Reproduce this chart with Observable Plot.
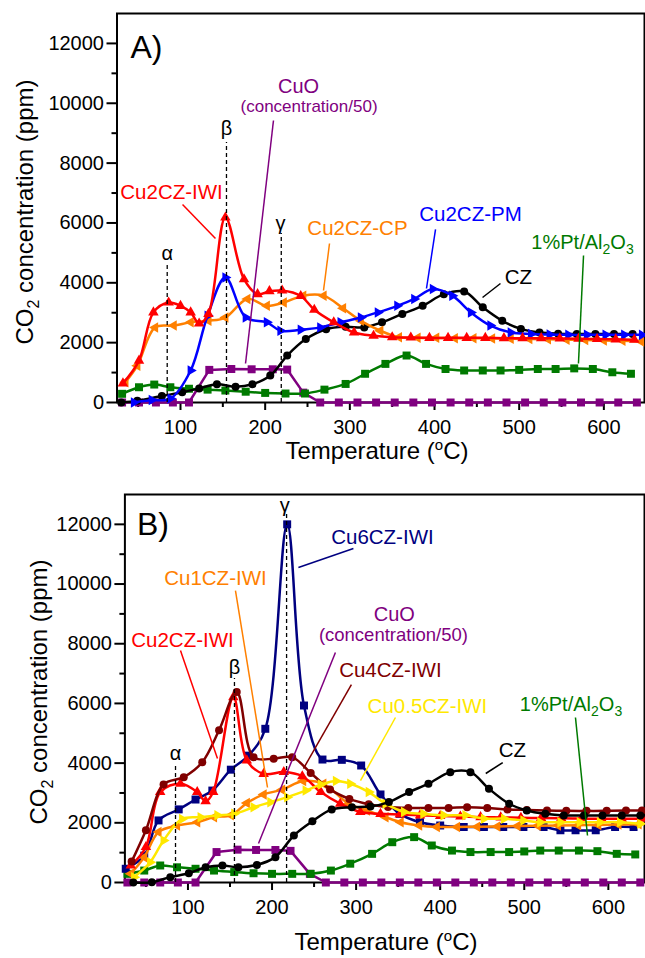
<!DOCTYPE html>
<html><head><meta charset="utf-8">
<script src="https://cdn.jsdelivr.net/npm/d3@7"></script>
<script src="https://cdn.jsdelivr.net/npm/@observablehq/plot@0.6"></script>
<style>
html,body{margin:0;padding:0;background:#fff;overflow:hidden;width:645px;height:958px}
svg{display:block}
</style></head><body><div id="a"></div><div id="b"></div>
<script>
const FONT = "'Liberation Sans', Arial, Helvetica, sans-serif";
const RED="#ff0000", BLUE="#0000ff", ORANGE="#ff8000", BLACK="#000000", GREEN="#007a00", PURPLE="#800080", NAVY="#000080", DARKRED="#800000", YELLOW="#ffe800";

// tick values
const yMajor = [0,2000,4000,6000,8000,10000,12000];
const yMinor = [1000,3000,5000,7000,9000,11000];
const xMajor = [100,200,300,400,500,600];
const xMinor = [50,150,250,350,450,550];

// ---------- Panel A data: [temperature °C, CO2 ppm] ----------
const A_cu2czIWI = [[32,640],[51,1400],[68,3010],[86,3340],[100,3230],[112,3010],[122,2640],[133,2960],[153,6180],[175,4120],[191,3620],[205,3720],[220,3740],[242,3560],[258,3100],[281,2680],[305,2340],[328,2230],[350,2180],[372,2170],[394,2160],[416,2160],[438,2160],[460,2160],[482,2150],[504,2150],[526,2150],[548,2140],[570,2130],[592,2120],[614,2110],[636,2100]];
const A_cu2czPM = [[45,0],[66,80],[88,130],[112,1070],[132,2900],[153,4180],[177,2840],[202,2680],[218,2400],[242,2430],[265,2510],[289,2680],[313,2840],[333,3010],[356,3230],[376,3460],[398,3790],[421,3570],[443,3010],[466,2570],[490,2340],[514,2290],[536,2270],[558,2260],[580,2260],[602,2260],[624,2260],[645,2260]];
const A_cu2czCP = [[35,680],[49,1230],[70,2510],[92,2570],[112,2680],[133,2730],[153,2840],[179,3460],[202,3230],[222,3340],[245,3570],[269,3570],[292,3150],[313,2730],[336,2400],[358,2180],[380,2160],[402,2160],[424,2150],[446,2150],[468,2140],[490,2130],[512,2120],[534,2110],[556,2100],[578,2090],[600,2070],[622,2060],[644,2040]];
const A_cz = [[30,0],[49,60],[78,220],[102,340],[122,470],[143,610],[165,530],[185,610],[206,900],[226,1570],[248,2120],[272,2450],[295,2530],[317,2510],[338,2680],[362,2960],[386,3230],[411,3620],[435,3710],[457,3180],[480,2730],[502,2460],[524,2340],[546,2300],[568,2290],[590,2290],[612,2290],[634,2290]];
const A_ptAl = [[31,290],[51,510],[69,600],[88,510],[110,460],[132,430],[153,400],[177,360],[200,320],[224,300],[247,300],[270,430],[295,620],[318,960],[342,1290],[367,1570],[390,1290],[413,1120],[435,1070],[457,1070],[478,1070],[500,1090],[522,1120],[543,1120],[565,1140],[587,1120],[610,1010],[632,960]];
const A_cuo = [[31,0],[51,0],[71,0],[91,0],[110,0],[134,1090],[160,1120],[184,1110],[209,1110],[226,1100],[245,330],[265,0],[287,0],[309,0],[331,0],[353,0],[375,0],[397,0],[419,0],[441,0],[463,0],[485,0],[507,0],[529,0],[551,0],[573,0],[595,0],[617,0],[639,0]];

// ---------- Panel B data ----------
const B_cu6cz = [[26,460],[48,900],[65,2080],[89,2450],[109,2780],[129,3080],[151,3780],[172,4250],[192,5150],[218,12000],[238,5930],[260,4120],[283,4110],[306,3920],[329,2950],[352,2300],[376,2020],[400,1910],[428,1860],[452,1860],[475,1860],[499,1860],[523,1860],[543,1750],[561,1750],[585,1750],[608,1860],[630,1860]];
const B_cu4cz = [[33,700],[50,1750],[71,3285],[95,3530],[117,4030],[137,5100],[158,6380],[178,4200],[202,4150],[224,4200],[246,3670],[269,3120],[292,2800],[315,2620],[338,2530],[362,2500],[386,2500],[410,2500],[432,2520],[456,2500],[480,2450],[503,2430],[527,2410],[550,2400],[574,2400],[598,2400],[621,2410],[640,2410]];
const B_cu2cz = [[32,570],[50,1190],[67,3030],[91,3310],[111,3030],[121,2720],[130,3030],[154,6210],[170,4090],[190,3640],[214,3700],[236,3560],[258,3030],[281,2640],[305,2360],[329,2300],[352,2280],[376,2250],[400,2230],[424,2210],[448,2190],[472,2180],[496,2170],[520,2160],[544,2150],[568,2140],[592,2140],[616,2140],[640,2140]];
const B_cu1cz = [[32,290],[48,850],[65,1690],[87,1910],[111,2020],[131,2190],[151,2250],[170,2660],[190,2950],[212,3110],[237,3400],[261,3310],[291,2640],[313,2410],[335,2190],[353,2020],[375,1910],[396,1860],[420,1860],[444,1870],[468,1880],[492,1890],[516,1900],[540,1910],[564,1920],[588,1930],[612,1940],[636,1950]];
const B_cu05cz = [[36,180],[55,680],[71,1410],[93,2130],[115,2190],[135,2250],[155,2300],[178,2520],[198,2690],[218,2860],[240,3080],[258,3280],[276,3400],[293,3310],[315,3030],[335,2640],[357,2360],[380,2300],[404,2250],[430,2250],[452,2140],[476,2140],[499,2080],[519,2020],[543,2020],[566,2020],[590,2020],[614,2020],[638,1970]];
const B_cz = [[35,0],[57,10],[79,180],[101,310],[121,510],[141,570],[160,510],[182,590],[204,850],[226,1575],[248,2050],[271,2450],[295,2525],[317,2548],[339,2694],[363,3029],[386,3309],[412,3698],[436,3698],[458,3141],[482,2638],[503,2414],[525,2302],[547,2246],[571,2246],[593,2246],[616,2246],[638,2246]];
const B_ptAl = [[28,290],[48,400],[67,570],[87,510],[109,460],[131,400],[155,350],[178,310],[200,290],[224,290],[246,290],[270,400],[293,630],[319,960],[343,1350],[369,1520],[390,1240],[414,1070],[436,1020],[460,1020],[482,1020],[500,1040],[519,1070],[541,1070],[565,1070],[587,1050],[610,960],[632,940]];
const B_cuo = [[28,0],[48,0],[67,0],[88,0],[109,0],[134,1020],[159,1100],[181,1090],[204,1090],[222,1060],[245,290],[264,0],[286,0],[308,0],[330,0],[352,0],[374,0],[396,0],[418,0],[440,0],[462,0],[484,0],[506,0],[528,0],[550,0],[572,0],[594,0],[616,0],[638,0]];

// ---------- annotations (data coordinates) ----------
const A_labels = [
  {T:59.8, v:11848, text:"A)", c:BLACK, s:32},
  {T:239.4, v:10561, text:"CuO", c:PURPLE, s:20},
  {T:251.8, v:9876, text:"(concentration/50)", c:PURPLE, s:17},
  {T:154.3, v:9158, text:"β", c:BLACK, s:20},
  {T:84.3, v:4970, text:"α", c:BLACK, s:20},
  {T:218.1, v:5983, text:"γ", c:BLACK, s:20},
  {T:89.4, v:7019, text:"Cu2CZ-IWI", c:RED, s:20.5},
  {T:309, v:5816, text:"Cu2CZ-CP", c:ORANGE, s:20.5},
  {T:442.5, v:6283, text:"Cu2CZ-PM", c:BLUE, s:20.5},
  {T:499, v:4178, text:"CZ", c:BLACK, s:20.5}
];
const A_rich = [{T:575.4, v:5348, c:GREEN}];
const A_dashes = [{T:84.3, top:4612},{T:154.3, top:8690},{T:219, top:5650}];
const A_leaders = [
  {T1:102.4,v1:6618,T2:141.3,v2:5481,c:RED},
  {T1:276,v1:5314,T2:268.9,v2:3743,c:ORANGE},
  {T1:401.2,v1:5782,T2:390.5,v2:3810,c:BLUE},
  {T1:576,v1:4913,T2:570,v2:1303,c:GREEN},
  {T1:477.9,v1:3977,T2:456.7,v2:3509,c:BLACK},
  {T1:209.8,v1:9425,T2:176.8,v2:1303,c:PURPLE}
];
const B_labels = [
  {T:58.4, v:11993, text:"B)", c:BLACK, s:32},
  {T:215.1, v:12630, text:"γ", c:BLACK, s:20},
  {T:155.3, v:7213, text:"β", c:BLACK, s:20},
  {T:85.2, v:4312, text:"α", c:BLACK, s:20},
  {T:331.3, v:11558, text:"Cu6CZ-IWI", c:NAVY, s:20.5},
  {T:132.7, v:10184, text:"Cu1CZ-IWI", c:ORANGE, s:20.5},
  {T:93.5, v:8107, text:"Cu2CZ-IWI", c:RED, s:20.5},
  {T:345.5, v:8978, text:"CuO", c:PURPLE, s:20},
  {T:344.4, v:8275, text:"(concentration/50)", c:PURPLE, s:18.5},
  {T:340.8, v:7102, text:"Cu4CZ-IWI", c:DARKRED, s:20.5},
  {T:384.8, v:5896, text:"Cu0.5CZ-IWI", c:YELLOW, s:20.5},
  {T:485.9, v:4422, text:"CZ", c:BLACK, s:20.5}
];
const B_rich = [{T:556.2, v:5963, c:GREEN}];
const B_dashes = [{T:85.2, top:3987},{T:155.3, top:6834},{T:217.3, top:12362}];
const B_leaders = [
  {T1:296.8,v1:11189,T2:231.4,v2:10553,c:NAVY},
  {T1:156.5,v1:9782,T2:194.6,v2:3183,c:ORANGE},
  {T1:91.1,v1:7772,T2:135.1,v2:4154,c:RED},
  {T1:275.4,v1:7705,T2:183.9,v2:1307,c:PURPLE},
  {T1:294.4,v1:6633,T2:237.4,v2:3819,c:DARKRED},
  {T1:346.8,v1:5528,T2:305.2,v2:3417,c:YELLOW},
  {T1:560.9,v1:5528,T2:575.2,v2:1575,c:GREEN},
  {T1:474.4,v1:4020,T2:454.2,v2:3652,c:BLACK}
];

function triSym(deg){
  const a0 = deg*Math.PI/180;
  return {draw(ctx, size){
    const R = Math.sqrt(size/1.299);
    for (let i=0;i<3;i++){const a=a0+i*2*Math.PI/3; const x=R*Math.cos(a), y=R*Math.sin(a); if(i) ctx.lineTo(x,y); else ctx.moveTo(x,y);}
    ctx.closePath();
  }};
}
const TRI_UP = triSym(-90), TRI_RIGHT = triSym(0), TRI_LEFT = triSym(180);

const A_series = [
  {d:A_cuo, c:PURPLE, sym:"square", r:4.5, curve:"linear"},
  {d:A_ptAl, c:GREEN, sym:"square", r:4.5, curve:"catmull-rom"},
  {d:A_cz, c:BLACK, sym:"circle", r:4, curve:"catmull-rom"},
  {d:A_cu2czCP, c:ORANGE, sym:TRI_LEFT, r:3.9, curve:"catmull-rom"},
  {d:A_cu2czPM, c:BLUE, sym:TRI_RIGHT, r:3.9, curve:"catmull-rom"},
  {d:A_cu2czIWI, c:RED, sym:TRI_UP, r:3.9, curve:"catmull-rom"}
];
const B_series = [
  {d:B_cuo, c:PURPLE, sym:"square", r:4.5, curve:"linear"},
  {d:B_ptAl, c:GREEN, sym:"square", r:4.5, curve:"catmull-rom"},
  {d:B_cu6cz, c:NAVY, sym:"square", r:4.5, curve:"catmull-rom"},
  {d:B_cu1cz, c:ORANGE, sym:TRI_LEFT, r:3.9, curve:"catmull-rom"},
  {d:B_cu2cz, c:RED, sym:TRI_UP, r:3.9, curve:"catmull-rom"},
  {d:B_cu4cz, c:DARKRED, sym:"circle", r:4, curve:"catmull-rom"},
  {d:B_cu05cz, c:YELLOW, sym:TRI_RIGHT, r:3.9, curve:"catmull-rom"},
  {d:B_cz, c:BLACK, sym:"circle", r:4, curve:"catmull-rom"}
];

function richParts(t, parts, base, sub){
  let shift = 0;
  for (const [s, kind] of parts) {
    const sp = t.append("tspan").text(s);
    let target = kind === "sub" ? sub.dy : kind === "sup" ? -sub.up : 0;
    if (kind) sp.attr("font-size", sub.size);
    if (target !== shift) { sp.attr("dy", target - shift); shift = target; }
  }
}

function makePanel(cfg){
  const marks = [
    Plot.frame({stroke:"black", strokeWidth:2}),
    Plot.axisY({ticks:yMajor, tickSize:10, tickPadding:3, fontSize:20, strokeWidth:2, tickFormat:d=>String(d), label:null}),
    Plot.axisY({ticks:yMinor, tickSize:5, tickFormat:()=>"", strokeWidth:2, label:null}),
    Plot.axisX({ticks:xMajor, tickSize:8, tickPadding:9, fontSize:20, strokeWidth:2, tickFormat:d=>String(d), label:null}),
    Plot.axisX({ticks:xMinor, tickSize:5, tickFormat:()=>"", strokeWidth:2, label:null})
  ];
  for (const s of cfg.series) {
    marks.push(Plot.line(s.d, {x:d=>d[0], y:d=>d[1], stroke:s.c, strokeWidth:2.5, curve:s.curve}));
    marks.push(Plot.dot(s.d, {x:d=>d[0], y:d=>d[1], symbol:s.sym, r:s.r, fill:s.c, stroke:"none"}));
  }
  marks.push(Plot.ruleX(cfg.dashes, {x:"T", y1:0, y2:"top", stroke:"black", strokeWidth:1.3, strokeDasharray:"4,3"}));
  for (const l of cfg.leaders) marks.push(Plot.link([l], {x1:"T1", y1:"v1", x2:"T2", y2:"v2", stroke:l.c, strokeWidth:1.5}));
  for (const t of cfg.labels) marks.push(Plot.text([t], {x:"T", y:"v", text:"text", fill:t.c, fontSize:t.s, textAnchor:"middle", lineAnchor:"middle", fontFamily:FONT}));
  const plot = Plot.plot({
    width:645, height:cfg.height,
    marginLeft:cfg.ml, marginRight:1, marginTop:cfg.mt, marginBottom:cfg.mb,
    x:{domain:cfg.xDomain}, y:{domain:[0,13000]},
    style:{fontFamily:FONT, background:"white", color:"black", overflow:"visible"},
    marks
  });
  const svg = d3.select(plot);
  const sx = plot.scale("x"), sy = plot.scale("y");
  for (const r of cfg.rich) {
    const t = svg.append("text").attr("x", sx.apply(r.T)).attr("y", sy.apply(r.v) + 7)
      .attr("text-anchor","middle").attr("font-family",FONT).attr("font-size",20).attr("fill",r.c);
    richParts(t, [["1%Pt/Al",null],["2","sub"],["O",null],["3","sub"]], 20, {size:14, dy:5, up:0});
  }
  // y-axis title
  const yt = svg.append("text").attr("transform",`translate(${cfg.ytX},${cfg.ytY}) rotate(-90)`)
    .attr("text-anchor","middle").attr("font-family",FONT).attr("font-size",24).attr("fill","black");
  richParts(yt, [["CO",null],["2","sub"],[" concentration (ppm)",null]], 24, {size:16, dy:6, up:0});
  // x-axis title
  const xt = svg.append("text").attr("x",cfg.xtX).attr("y",cfg.xtY)
    .attr("text-anchor","middle").attr("font-family",FONT).attr("font-size",24).attr("fill","black");
  richParts(xt, [["Temperature (",null],["o","sup"],["C)",null]], 24, {size:15, dy:0, up:9});
  return plot;
}

document.getElementById("a").appendChild(makePanel({
  series:A_series, labels:A_labels, rich:A_rich, dashes:A_dashes, leaders:A_leaders,
  height:476, ml:116.5, mt:13, mb:74, xDomain:[25,648],
  ytX:33, ytY:212, xtX:377, xtY:459
}));
document.getElementById("b").appendChild(makePanel({
  series:B_series, labels:B_labels, rich:B_rich, dashes:B_dashes, leaders:B_leaders,
  height:482, ml:124.4, mt:18, mb:76, xDomain:[25,643],
  ytX:47, ytY:216, xtX:386, xtY:474
}));
</script></body></html>
